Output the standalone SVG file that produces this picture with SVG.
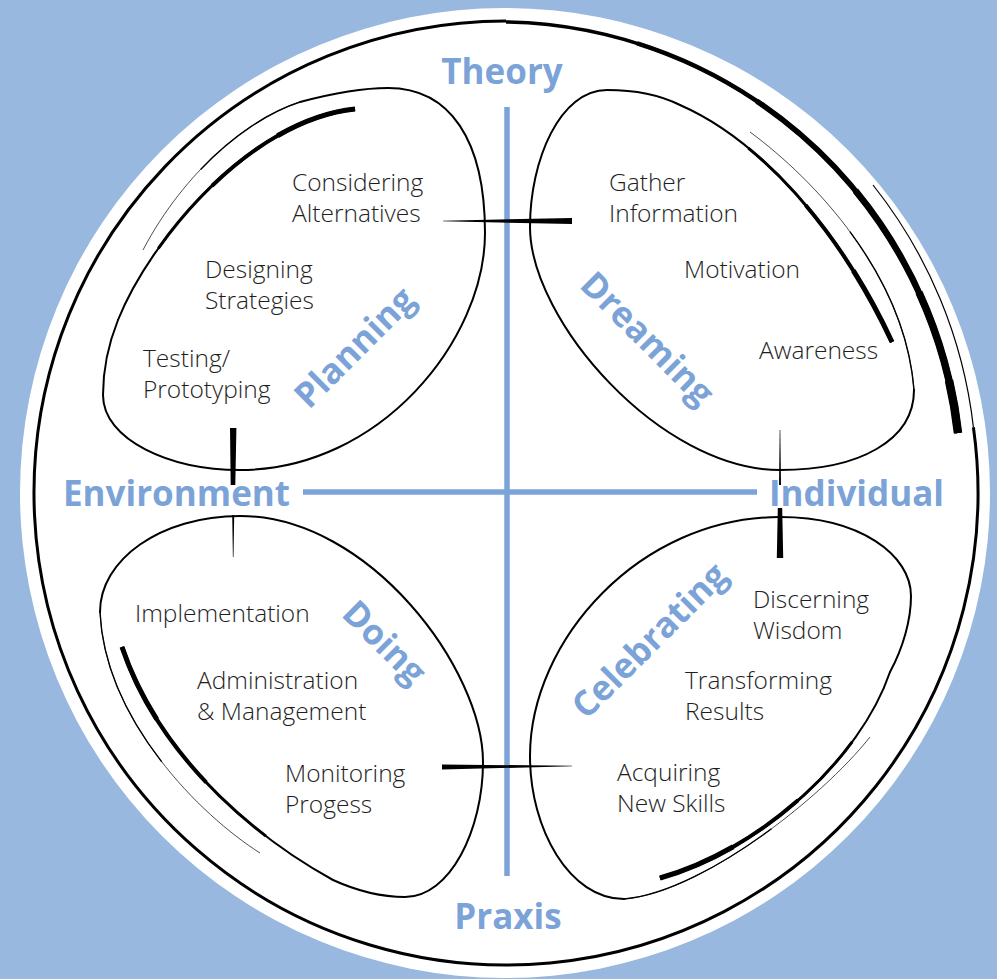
<svg xmlns="http://www.w3.org/2000/svg" width="997" height="979" viewBox="0 0 997 979">
<style>
.bg{fill:#98b8df}
.lobe{fill:none;stroke:#000;stroke-width:2;stroke-linecap:round;stroke-linejoin:round}
.hair{fill:none;stroke:#000;stroke-width:0.7}
.hair2{fill:none;stroke:#000;stroke-width:1.4;stroke-dasharray:55 45;stroke-dashoffset:55}
.tk{fill:none;stroke:#000}
.w2{stroke-width:2}
.w3{stroke-width:3;stroke-dasharray:75 100}
.w4{stroke-width:4;stroke-dasharray:50 100}
.w5{stroke-width:5;stroke-dasharray:25 100}
.o3{stroke-width:3.5}
.o4{stroke-width:4.5;stroke-dasharray:80 100}
.o5{stroke-width:5.5;stroke-dasharray:60 100}
.o6{stroke-width:6.5;stroke-dasharray:40 100}
.o7{stroke-width:7.5;stroke-dasharray:22 100}
.o8{stroke-width:8.5;stroke-dasharray:8 100}
.axis{stroke:#7ba3d8;stroke-width:5.5;fill:none}
.lbl{font-family:"Open Sans","Noto Sans",sans-serif;font-weight:700;font-size:35px;fill:#7ba3d8}
.txt{font-family:"Open Sans","Noto Sans",sans-serif;font-weight:300;font-size:24.5px;fill:#1e1e1e}
.wedge{fill:#000}
</style>
<defs>
<path id="arcThick" pathLength="100" d="M 958 433 A 463 463 0 0 0 506 22"/>
<path id="tkTL" pathLength="100" d="M 355 109 C 250 120, 150 240, 118 320"/>
<path id="tkTR" pathLength="100" d="M 892 342 C 840 230, 760 140, 680 105"/>
<path id="tkBL" pathLength="100" d="M 122 647 C 160 760, 260 840, 333 880"/>
<path id="tkBR" pathLength="100" d="M 660 878 C 760 850, 860 760, 890 672"/>
<path id="hTL" pathLength="100" d="M 143 250 C 185 170, 250 118, 300 102"/>
<path id="hTR" pathLength="100" d="M 750 132 C 815 180, 905 275, 914 390"/>
<path id="hBL" pathLength="100" d="M 260 853 C 200 815, 105 720, 100 612"/>
<path id="hBR" pathLength="100" d="M 870 737 C 820 800, 700 893, 624 899"/>
</defs>
<rect class="bg" x="0" y="0" width="997" height="979"/>
<g id="outer-circle">
<circle cx="505" cy="493" r="485" fill="#fff"/>
<path fill="none" stroke="#000" stroke-width="3" d="M 973.4 427.3 A 472 472 0 1 1 506 21"/>
<path fill="none" stroke="#000" stroke-width="1.2" d="M 873 185 A 476 476 0 0 1 973.4 427.3"/>
<use href="#arcThick" class="tk o3"/>
<use href="#arcThick" class="tk o4"/>
<use href="#arcThick" class="tk o5"/>
<use href="#arcThick" class="tk o6"/>
<use href="#arcThick" class="tk o7"/>
<use href="#arcThick" class="tk o8"/>
</g>
<g id="axes">
<line class="axis" x1="507" y1="107" x2="507" y2="876"/>
<line class="axis" x1="303" y1="492" x2="757" y2="492"/>
<text class="lbl" x="502" y="84" text-anchor="middle">Theory</text>
<text class="lbl" x="508" y="929" text-anchor="middle">Praxis</text>
<text class="lbl" x="63" y="506">Environment</text>
<text class="lbl" x="769" y="506">Individual</text>
</g>
<g id="lobe-planning">
<path class="lobe" d="M 300 102 C 330 94, 360 88, 388 88 C 450 88, 485 140, 485 233 C 485 340, 380 470, 240 470 C 170 470, 103 440, 103 395 C 103 370, 108 345, 118 320"/>
<use href="#hTL" class="hair"/>
<use href="#hTL" class="hair2"/>
<use href="#tkTL" class="tk w2"/>
<use href="#tkTL" class="tk w3"/>
<use href="#tkTL" class="tk w4"/>
<use href="#tkTL" class="tk w5"/>
<text class="lbl" transform="translate(356,349) rotate(-45)" x="0" y="10" text-anchor="middle">Planning</text>
<text class="txt" x="292" y="191">Considering</text>
<text class="txt" x="292" y="222">Alternatives</text>
<text class="txt" x="205" y="278">Designing</text>
<text class="txt" x="205" y="309">Strategies</text>
<text class="txt" x="143" y="367">Testing/</text>
<text class="txt" x="143" y="398">Prototyping</text>
</g>
<g id="lobe-dreaming">
<path class="lobe" d="M 914 390 C 914 440, 860 470, 780 470 C 660 470, 530 320, 530 227 C 530 160, 560 90, 607 90 C 635 90, 660 95, 680 105"/>
<use href="#hTR" class="hair"/>
<use href="#hTR" class="hair2"/>
<use href="#tkTR" class="tk w2"/>
<use href="#tkTR" class="tk w3"/>
<use href="#tkTR" class="tk w4"/>
<use href="#tkTR" class="tk w5"/>
<text class="lbl" transform="translate(646,340) rotate(45)" x="0" y="10" text-anchor="middle">Dreaming</text>
<text class="txt" x="609" y="191">Gather</text>
<text class="txt" x="609" y="222">Information</text>
<text class="txt" x="684" y="278">Motivation</text>
<text class="txt" x="759" y="359">Awareness</text>
</g>
<g id="lobe-doing">
<path class="lobe" d="M 100 612 C 100 560, 160 516, 240 516 C 370 516, 483 670, 483 762 C 483 830, 450 897, 405 897 C 380 897, 355 890, 333 880"/>
<use href="#hBL" class="hair"/>
<use href="#hBL" class="hair2"/>
<use href="#tkBL" class="tk w2"/>
<use href="#tkBL" class="tk w3"/>
<use href="#tkBL" class="tk w4"/>
<use href="#tkBL" class="tk w5"/>
<text class="lbl" transform="translate(383,644) rotate(45)" x="0" y="10" text-anchor="middle">Doing</text>
<text class="txt" x="135" y="622">Implementation</text>
<text class="txt" x="197" y="689">Administration</text>
<text class="txt" x="197" y="720">&amp; Management</text>
<text class="txt" x="285" y="782">Monitoring</text>
<text class="txt" x="285" y="813">Progess</text>
</g>
<g id="lobe-celebrating">
<path class="lobe" d="M 624 899 C 570 899, 530 830, 530 756 C 530 640, 640 517, 780 517 C 860 517, 911 555, 911 596 C 911 620, 903 648, 890 672"/>
<use href="#hBR" class="hair"/>
<use href="#hBR" class="hair2"/>
<use href="#tkBR" class="tk w2"/>
<use href="#tkBR" class="tk w3"/>
<use href="#tkBR" class="tk w4"/>
<use href="#tkBR" class="tk w5"/>
<text class="lbl" transform="translate(651,642) rotate(-45)" x="0" y="10" text-anchor="middle">Celebrating</text>
<text class="txt" x="753" y="608">Discerning</text>
<text class="txt" x="753" y="639">Wisdom</text>
<text class="txt" x="685" y="689">Transforming</text>
<text class="txt" x="685" y="720">Results</text>
<text class="txt" x="617" y="781">Acquiring</text>
<text class="txt" x="617" y="812">New Skills</text>
</g>
<g id="connectors">
<polygon class="wedge" points="443,220.7 572,218 572,224 443,221.3"/>
<polygon class="wedge" points="442,764.5 442,769.5 572,766.3 572,765.7"/>
<polygon class="wedge" points="230,428 236.4,428 235.3,485 230.7,485"/>
<polygon class="wedge" points="232.2,515 234.2,515 233.5,557 232.9,557"/>
<polygon class="wedge" points="779.7,430 780.3,430 781,485 779,485"/>
<polygon class="wedge" points="777.8,508 782.2,508 783.2,558 776.8,558"/>
</g>
</svg>
